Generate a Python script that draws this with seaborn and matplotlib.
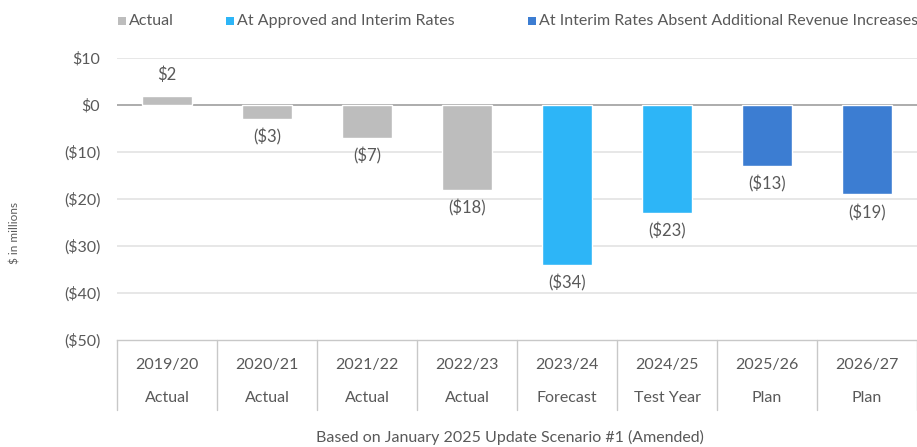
import matplotlib
matplotlib.use("Agg")
import matplotlib.pyplot as plt
import matplotlib.transforms as mtransforms
from matplotlib.patches import Rectangle
import seaborn as sns
import pandas as pd

years = ["2019/20", "2020/21", "2021/22", "2022/23", "2023/24", "2024/25", "2025/26", "2026/27"]
stages = ["Actual", "Actual", "Actual", "Actual", "Forecast", "Test Year", "Plan", "Plan"]
values = [2, -3, -7, -18, -34, -23, -13, -19]
series = ["Actual", "Actual", "Actual", "Actual",
          "At Approved and Interim Rates", "At Approved and Interim Rates",
          "At Interim Rates Absent Additional Revenue Increases",
          "At Interim Rates Absent Additional Revenue Increases"]
series_order = ["Actual", "At Approved and Interim Rates",
                "At Interim Rates Absent Additional Revenue Increases"]
series_colors = ["#BDBDBD", "#2DB5F7", "#3C7DD2"]
y_ticks = [10, 0, -10, -20, -30, -40, -50]

sns.set_theme(style="white")
plt.rcParams["font.family"] = ["Lato", "DejaVu Sans"]
text_color = "#595959"

df = pd.DataFrame({"year": years, "value": values, "series": series})
palette = dict(zip(series_order, series_colors))

fig = plt.figure(figsize=(9.17, 4.47), dpi=100)
W, H = 917, 447
ax = fig.add_axes([117 / W, 1 - 340 / H, 800 / W, (340 - 58) / H])

sns.barplot(data=df, x="year", y="value", hue="series", hue_order=series_order,
            palette=palette, dodge=False, width=0.5, saturation=1,
            legend=False, ax=ax)

ax.set_ylim(-50, 10)
ax.set_xlim(-0.5, len(years) - 0.5)
ax.set_yticks(y_ticks)
ax.set_yticklabels([f"${v}" if v >= 0 else f"(${-v})" for v in y_ticks],
                   color=text_color, fontsize=11.5)
ax.tick_params(axis="y", length=0, pad=12)
ax.set_xticks([])
ax.set_xlabel("")
ax.set_ylabel("$ in millions", color=text_color, fontsize=8.5)
ax.yaxis.set_label_coords(-(117 - 21) / 800, 1 - (233 - 58) / 282)

for v in y_ticks:
    if v == 0:
        ax.axhline(0, color="#A6A6A6", lw=1.3, zorder=0.5)
    elif v != -50:
        ax.axhline(v, color="#E3E3E3", lw=1.2, zorder=0.5)

for s in ["top", "right", "left"]:
    ax.spines[s].set_visible(False)
ax.spines["bottom"].set_color("#C8C8C8")
ax.spines["bottom"].set_linewidth(1.0)

# Value labels
for i, v in enumerate(values):
    lab = f"${v}" if v >= 0 else f"(${-v})"
    if v >= 0:
        ax.annotate(lab, (i, v), xytext=(0, 9), textcoords="offset points",
                    ha="center", va="bottom", color=text_color, fontsize=12)
    else:
        ax.annotate(lab, (i, v), xytext=(0, -7), textcoords="offset points",
                    ha="center", va="top", color=text_color, fontsize=12)

# Category table below the plot
trans = mtransforms.blended_transform_factory(ax.transData, fig.transFigure)
for i in range(len(years) + 1):
    ax.plot([i - 0.5, i - 0.5], [1 - 340 / H, 1 - 410 / H], transform=trans,
            color="#C8C8C8", lw=1.0, clip_on=False)
for i, (yr, st) in enumerate(zip(years, stages)):
    ax.text(i, 1 - 365 / H, yr, transform=trans, ha="center", va="center",
            color=text_color, fontsize=11.5)
    ax.text(i, 1 - 398 / H, st, transform=trans, ha="center", va="center",
            color=text_color, fontsize=11.5)

fig.text(510 / W, 1 - 437 / H, "Based on January 2025 Update Scenario #1 (Amended)",
         ha="center", va="center", color=text_color, fontsize=11.5)

# Legend row along the top
legend_x = [118, 226, 528]
legend_y = 21
sq = 8
for x0, name, col in zip(legend_x, series_order, series_colors):
    fig.patches.append(Rectangle((x0 / W, (H - legend_y - sq / 2) / H), sq / W, sq / H,
                                 transform=fig.transFigure, facecolor=col,
                                 edgecolor="none"))
    fig.text((x0 + sq + 3) / W, 1 - legend_y / H, name, ha="left", va="center",
             color=text_color, fontsize=11.5)

fig.savefig("out.png", dpi=100)
